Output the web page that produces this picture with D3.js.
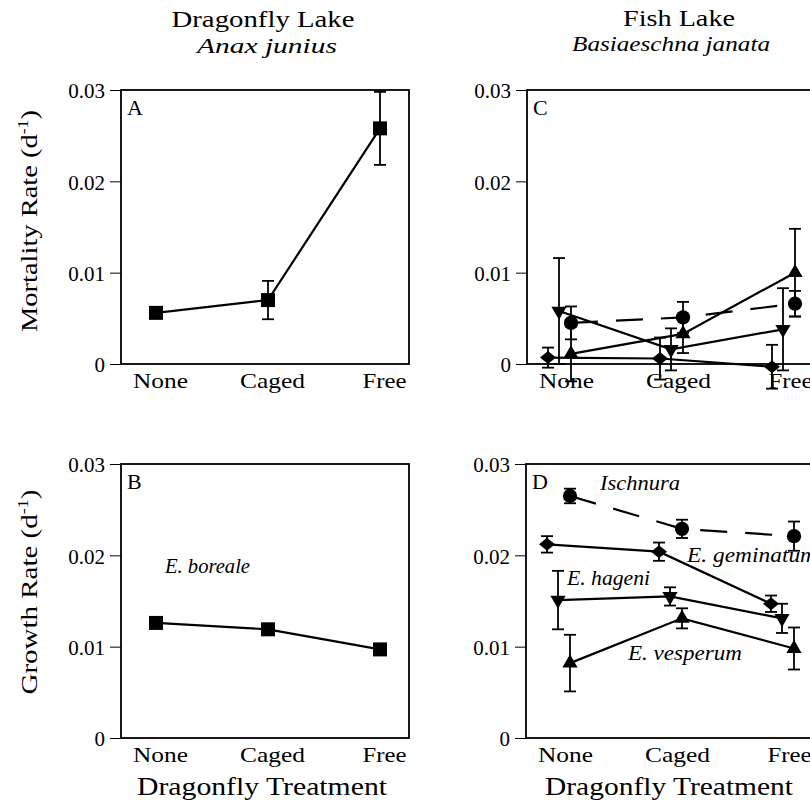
<!DOCTYPE html>
<html>
<head>
<meta charset="utf-8">
<script src="https://cdn.jsdelivr.net/npm/d3@7"></script>
<style>
  body { margin: 0; background: #fff; }
  svg { display: block; }
  text { font-family: "Liberation Serif", serif; fill: #000; }
</style>
</head>
<body>
<svg id="chart" width="810" height="803"></svg>
<script>
// -------- data --------
const treatments = ["None", "Caged", "Free"];
const yTicks = [0, 0.01, 0.02, 0.03];

// Dragonfly Lake (Anax junius) - E. boreale
const borealeMortality = [0.0056, 0.0070, 0.0258];
const borealeMortalitySE = [0.0003, 0.0021, 0.0040];
const borealeGrowth = [0.0126, 0.0119, 0.0097];
const borealeGrowthSE = [0.0003, 0.0003, 0.0003];

// Fish Lake (Basiaeschna janata) - mortality
const ischnuraMortality = [0.0045, 0.0051, 0.0066];
const ischnuraMortalitySE = [0.0018, 0.0017, 0.0014];
const geminatumMortality = [0.0007, 0.0006, -0.0003];
const geminatumMortalitySE = [0.0011, 0.0023, 0.0024];
const hageniMortality = [0.0058, 0.0016, 0.0038];
const hageniMortalitySE = [0.0058, 0.0023, 0.0045];
const vesperumMortality = [0.0011, 0.0033, 0.0100];
const vesperumMortalitySE = [0.0030, 0.0021, 0.0048];

// Fish Lake - growth
const ischnuraGrowth = [0.0265, 0.0229, 0.0221];
const ischnuraGrowthSE = [0.0008, 0.0010, 0.0016];
const geminatumGrowth = [0.0212, 0.0204, 0.0147];
const geminatumGrowthSE = [0.0009, 0.0010, 0.0009];
const hageniGrowth = [0.0151, 0.0155, 0.0131];
const hageniGrowthSE = [0.0032, 0.0010, 0.0016];
const vesperumGrowth = [0.0082, 0.0131, 0.0098];
const vesperumGrowthSE = [0.0031, 0.0011, 0.0023];

// -------- setup --------
const svg = d3.select("#chart").attr("font-family", "Liberation Serif, serif");
const panelW = 288, panelH = 274;

const y = d3.scaleLinear().domain([0, 0.03]).range([panelH, 0]);
const x = d3.scalePoint().domain(treatments).range([35, 259]);

// marker shapes
const shapes = {
  square: { d: d3.symbol(d3.symbolSquare, 196)(), rot: 0 },
  circle: { d: d3.symbol(d3.symbolCircle, 160)(), rot: 0 },
  triangle: { d: d3.symbol(d3.symbolTriangle, 100)(), rot: 0 },
  invTriangle: { d: d3.symbol(d3.symbolTriangle, 100)(), rot: 180 },
  diamond: { d: "M-8,0L0,-6.5L8,0L0,6.5Z", rot: 0 }
};

// stretch text to the width it has in the figure
function fit(sel, w) {
  sel.attr("textLength", w).attr("lengthAdjust", "spacingAndGlyphs");
}

function fishSeries(isch, ischSE, gem, gemSE, hag, hagSE, ves, vesSE) {
  return [
    { values: isch, se: ischSE, shape: "circle", dx: 9, dashed: true },
    { values: gem, se: gemSE, shape: "diamond", dx: -14 },
    { values: hag, se: hagSE, shape: "invTriangle", dx: -3 },
    { values: ves, se: vesSE, shape: "triangle", dx: 9 }
  ];
}

const panels = [
  { letter: "A", left: 121, top: 90,
    series: [{ values: borealeMortality, se: borealeMortalitySE, shape: "square", dx: 0 }] },
  { letter: "B", left: 121, top: 464,
    series: [{ values: borealeGrowth, se: borealeGrowthSE, shape: "square", dx: 0 }] },
  { letter: "C", left: 527, top: 90,
    series: fishSeries(ischnuraMortality, ischnuraMortalitySE, geminatumMortality, geminatumMortalitySE,
      hageniMortality, hageniMortalitySE, vesperumMortality, vesperumMortalitySE) },
  { letter: "D", left: 526, top: 464,
    series: fishSeries(ischnuraGrowth, ischnuraGrowthSE, geminatumGrowth, geminatumGrowthSE,
      hageniGrowth, hageniGrowthSE, vesperumGrowth, vesperumGrowthSE) }
];

// species labels inside the panels
const annotations = [
  { panel: "B", text: "E. boreale", x: 44, value: 0.0181, width: 85 },
  { panel: "D", text: "Ischnura", x: 74, value: 0.0272, width: 80 },
  { panel: "D", text: "E. geminatum", x: 161, value: 0.0193, width: 130 },
  { panel: "D", text: "E. hageni", x: 41, value: 0.0168, width: 83 },
  { panel: "D", text: "E. vesperum", x: 102, value: 0.0085, width: 114 }
];

const labelWidths = { None: 55, Caged: 65, Free: 44 };

// -------- draw panels --------
panels.forEach(function (p) {
  const g = svg.append("g")
    .attr("id", "panel" + p.letter)
    .attr("transform", "translate(" + p.left + "," + p.top + ")");

  // y axis
  g.append("g")
    .call(d3.axisLeft(y)
      .tickValues(yTicks)
      .tickFormat(d => d === 0 ? "0" : d3.format(".2f")(d))
      .tickSize(11)
      .tickPadding(5))
    .call(a => a.select(".domain").remove())
    .attr("font-family", "Liberation Serif, serif")
    .attr("font-size", 21)
    .call(a => a.selectAll("text").attr("dy", "0.38em").attr("fill", "#000"))
    .call(a => a.selectAll("line").attr("stroke", "#000").attr("stroke-width", 1));

  // x axis (labels only)
  g.append("g")
    .attr("transform", "translate(4," + panelH + ")")
    .call(d3.axisBottom(x).tickSize(0).tickPadding(8))
    .call(a => a.select(".domain").remove())
    .attr("font-family", "Liberation Serif, serif")
    .attr("font-size", 22)
    .call(a => a.selectAll("text").attr("fill", "#000")
      .each(function (d) { fit(d3.select(this), labelWidths[d]); }));

  // data lines
  p.series.forEach(function (s) {
    g.append("path")
      .datum(s.values)
      .attr("fill", "none")
      .attr("stroke", "#000")
      .attr("stroke-width", 2.2)
      .attr("stroke-dasharray", s.dashed ? "27,18" : null)
      .attr("d", d3.line().x((d, i) => x(treatments[i]) + s.dx).y(d => y(d)));
  });

  // error bars
  p.series.forEach(function (s) {
    const eb = g.append("g").attr("stroke", "#000").attr("stroke-width", 1.8);
    s.values.forEach(function (v, i) {
      const cx = x(treatments[i]) + s.dx,
        hi = y(v + s.se[i]),
        lo = y(v - s.se[i]);
      eb.append("line").attr("x1", cx).attr("x2", cx).attr("y1", hi).attr("y2", lo);
      eb.append("line").attr("x1", cx - 6).attr("x2", cx + 6).attr("y1", hi).attr("y2", hi);
      eb.append("line").attr("x1", cx - 6).attr("x2", cx + 6).attr("y1", lo).attr("y2", lo);
    });
  });

  // markers
  p.series.forEach(function (s) {
    g.selectAll(null)
      .data(s.values)
      .enter()
      .append("path")
      .attr("d", shapes[s.shape].d)
      .attr("fill", "#000")
      .attr("transform", (d, i) => "translate(" + (x(treatments[i]) + s.dx) + "," + y(d) + ") rotate(" + shapes[s.shape].rot + ")");
  });

  // frame
  g.append("rect")
    .attr("width", panelW)
    .attr("height", panelH)
    .attr("fill", "none")
    .attr("stroke", "#000")
    .attr("stroke-width", 1.8);

  // panel letter
  g.append("text")
    .attr("x", 6)
    .attr("y", 25)
    .attr("font-size", 22)
    .text(p.letter);

  annotations.filter(a => a.panel === p.letter).forEach(function (a) {
    g.append("text")
      .attr("x", a.x)
      .attr("y", y(a.value))
      .attr("font-size", 21)
      .attr("font-style", "italic")
      .text(a.text)
      .call(fit, a.width);
  });
});

// -------- titles --------
function title(txt, cx, base, size, w, italic) {
  svg.append("text")
    .attr("x", cx)
    .attr("y", base)
    .attr("text-anchor", "middle")
    .attr("font-size", size)
    .attr("font-style", italic ? "italic" : null)
    .text(txt)
    .call(fit, w);
}
title("Dragonfly Lake", 263, 27, 24, 183, false);
title("Anax junius", 267, 53, 22, 140, true);
title("Fish Lake", 679, 26, 24, 112, false);
title("Basiaeschna janata", 671, 51, 22, 198, true);
title("Dragonfly Treatment", 262, 795, 25, 250, false);
title("Dragonfly Treatment", 669, 795, 25, 248, false);

// rotated y titles with the d^-1 superscript
function yTitle(main, cy, w) {
  const t = svg.append("text")
    .attr("transform", "translate(37," + cy + ") rotate(-90)")
    .attr("text-anchor", "middle")
    .attr("font-size", 24);
  t.append("tspan").text(main + " (d");
  t.append("tspan").attr("dy", -9).attr("font-size", 15).text("-1");
  t.append("tspan").attr("dy", 9).text(")");
  fit(t, w);
}
yTitle("Mortality Rate", 221, 222);
yTitle("Growth Rate", 592, 205);
</script>
</body>
</html>
